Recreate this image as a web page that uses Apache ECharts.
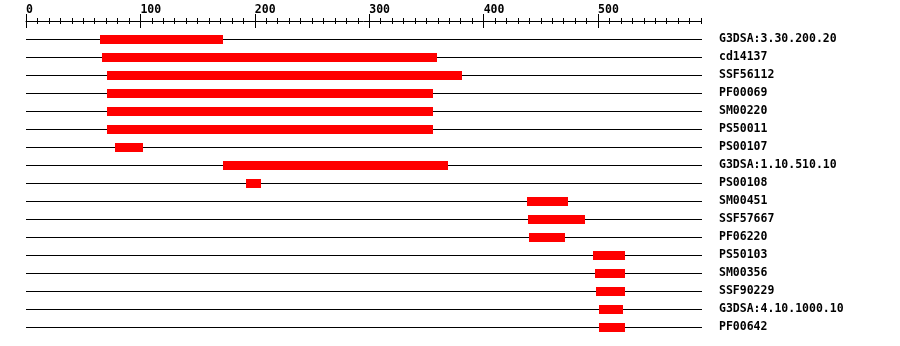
<!DOCTYPE html>
<html>
<head>
<meta charset="utf-8">
<script src="https://cdn.jsdelivr.net/npm/echarts@6/dist/echarts.min.js"></script>
<style>
html,body{margin:0;padding:0;background:#fff;}
#chart{width:900px;height:346px;}
</style>
</head>
<body>
<div id="chart"></div>
<script>
const categories = ['G3DSA:3.30.200.20','cd14137','SSF56112','PF00069','SM00220','PS50011','PS00107','G3DSA:1.10.510.10','PS00108','SM00451','SSF57667','PF06220','PS50103','SM00356','SSF90229','G3DSA:4.10.1000.10','PF00642'];
const starts = [65, 66, 71, 71, 71, 71, 78, 172, 192, 438, 439, 440, 496, 497, 498, 501, 501];
const ends   = [172, 359, 381, 356, 356, 356, 102, 369, 205, 474, 489, 471, 524, 524, 524, 522, 524];
const seqLength = 590;
const majorTicks = [0, 100, 200, 300, 400, 500];

const FONT = 'DejaVu Sans Mono';
const chart = echarts.init(document.getElementById('chart'), null, {renderer: 'canvas'});

const baseAxis = {
  type: 'value', position: 'top', offset: 9, min: 0, max: seqLength,
  splitLine: {show: false}, axisLine: {show: false}, axisLabel: {show: false}
};

const lineData = categories.map((c, i) => [0, seqLength, i]);
const barData = categories.map((c, i) => [starts[i], ends[i], i]);

chart.setOption({
  animation: false,
  grid: {left: 26, top: 30, width: 675, height: 306, containLabel: false},
  xAxis: [
    Object.assign({}, baseAxis, {interval: 10,
      axisLine: {show: true, lineStyle: {color: '#000', width: 1}},
      axisTick: {show: true, length: 3, inside: false, lineStyle: {color: '#000'}}}),
    Object.assign({}, baseAxis, {interval: 10,
      axisTick: {show: true, length: 3, inside: true, lineStyle: {color: '#000'}}}),
    Object.assign({}, baseAxis, {interval: 100,
      axisTick: {show: true, length: 7, inside: false, customValues: majorTicks, lineStyle: {color: '#000'}},
      axisLabel: {show: true, customValues: majorTicks, align: 'left', verticalAlign: 'bottom', margin: 5,
        color: '#000', fontFamily: FONT, fontWeight: 'bold', fontSize: 11.5}}),
    Object.assign({}, baseAxis, {interval: 100,
      axisTick: {show: true, length: 7, inside: true, customValues: majorTicks, lineStyle: {color: '#000'}}})
  ],
  yAxis: {
    type: 'category', data: categories, inverse: true, position: 'right',
    axisLine: {show: false}, axisTick: {show: false}, splitLine: {show: false},
    axisLabel: {margin: 18, align: 'left', padding: [2, 0, 0, 0], color: '#000', fontFamily: FONT, fontWeight: 'bold', fontSize: 11.5}
  },
  series: [
    {
      type: 'custom', xAxisIndex: 0, yAxisIndex: 0, data: lineData, silent: true,
      encode: {x: [0, 1], y: 2},
      renderItem: function (params, api) {
        const a = api.coord([api.value(0), api.value(2)]);
        const b = api.coord([api.value(1), api.value(2)]);
        const y = Math.round(a[1]) + 0.5;
        return {type: 'line', shape: {x1: Math.round(a[0]), y1: y, x2: Math.round(b[0]) + 1, y2: y},
          style: {stroke: '#000', lineWidth: 1}};
      }
    },
    {
      type: 'custom', xAxisIndex: 0, yAxisIndex: 0, data: barData, silent: true,
      encode: {x: [0, 1], y: 2},
      renderItem: function (params, api) {
        const a = api.coord([api.value(0), api.value(2)]);
        const b = api.coord([api.value(1), api.value(2)]);
        const x1 = Math.round(a[0]), x2 = Math.round(b[0]);
        const y = Math.round(a[1]);
        return {type: 'rect', shape: {x: x1, y: y - 4, width: x2 - x1, height: 9},
          style: {fill: '#ff0000'}};
      }
    }
  ]
});
</script>
</body>
</html>
